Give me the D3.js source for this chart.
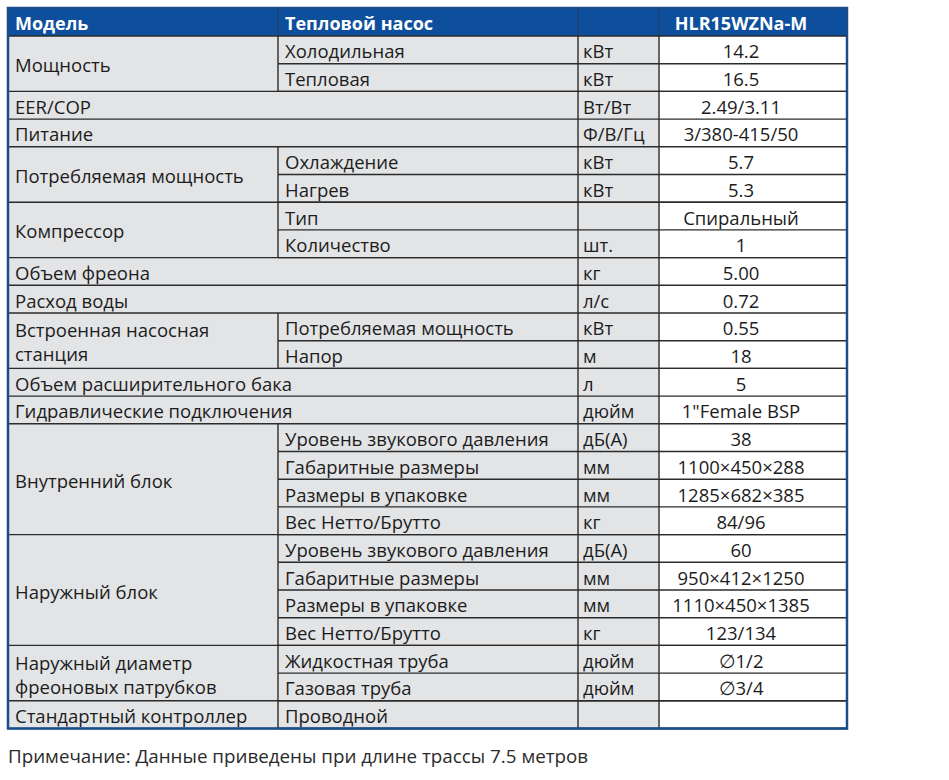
<!DOCTYPE html>
<html>
<head>
<meta charset="utf-8">
<script src="https://cdn.jsdelivr.net/npm/d3@7"></script>
<style>
  body { margin: 0; background: #fff; }
  svg text { font-family: "Open Sans", "Noto Sans", sans-serif; fill: #1c1c1c; }
</style>
</head>
<body>
<div id="chart"></div>
<script>
// Header cells.
var headerLabels = ["Модель", "Тепловой насос", "", "HLR15WZNa-M"];

// Merged left-hand groups and the number of rows each covers.
var groupLabels = ["Мощность", "EER/COP", "Питание", "Потребляемая мощность", "Компрессор",
    "Объем фреона", "Расход воды", "Встроенная насосная\nстанция", "Объем расширительного бака",
    "Гидравлические подключения", "Внутренний блок", "Наружный блок",
    "Наружный диаметр\nфреоновых патрубков", "Стандартный контроллер"];
var groupSpans = [2, 1, 1, 2, 2, 1, 1, 2, 1, 1, 4, 4, 2, 1];

// One entry per row (null sub label = group cell spans both columns).
var subLabels = ["Холодильная", "Тепловая", null, null, "Охлаждение", "Нагрев", "Тип", "Количество",
    null, null, "Потребляемая мощность", "Напор", null, null,
    "Уровень звукового давления", "Габаритные размеры", "Размеры в упаковке", "Вес Нетто/Брутто",
    "Уровень звукового давления", "Габаритные размеры", "Размеры в упаковке", "Вес Нетто/Брутто",
    "Жидкостная труба", "Газовая труба", "Проводной"];
var units = ["кВт", "кВт", "Вт/Вт", "Ф/В/Гц", "кВт", "кВт", "", "шт.", "кг", "л/с", "кВт", "м", "л", "дюйм",
    "дБ(А)", "мм", "мм", "кг", "дБ(А)", "мм", "мм", "кг", "дюйм", "дюйм", ""];
var values = ["14.2", "16.5", "2.49/3.11", "3/380-415/50", "5.7", "5.3", "Спиральный", "1", "5.00", "0.72",
    "0.55", "18", "5", "1\"Female BSP", "38", "1100×450×288", "1285×682×385", "84/96",
    "60", "950×412×1250", "1110×450×1385", "123/134", "∅1/2", "∅3/4", ""];

var note = "Примечание: Данные приведены при длине трассы 7.5 метров";

// Layout.
var width = 949, height = 780;
var colX = [8, 278, 578, 659, 847];
var headTop = 8, headBottom = 36;
var nRows = units.length;
var y = d3.scaleLinear().domain([0, nRows]).range([headBottom, 728.5]);
var valueCenter = 741;
var pad = 7;
var fontSize = 18.5;
var gray = "#e3e4e6", blue = "#0d4f9c", lineColor = "#2b2b2b", borderColor = "#1b4c8c";

var svg = d3.select("#chart").append("svg")
        .attr("width", width)
        .attr("height", height);

// Background fills: gray for label columns, blue header.
svg.append("rect")
        .attr("x", colX[0]).attr("y", headBottom)
        .attr("width", colX[3] - colX[0]).attr("height", y(nRows) - headBottom)
        .style("fill", gray);
svg.append("rect")
        .attr("x", colX[0]).attr("y", headTop)
        .attr("width", colX[4] - colX[0]).attr("height", headBottom - headTop)
        .style("fill", blue);

// Header text.
svg.selectAll("text.head").data(headerLabels).enter().append("text")
        .attr("class", "head")
        .attr("x", function(d, i) { return i === 3 ? valueCenter : colX[i] + pad; })
        .attr("y", (headTop + headBottom) / 2 + 1)
        .attr("dominant-baseline", "central")
        .attr("text-anchor", function(d, i) { return i === 3 ? "middle" : "start"; })
        .style("font-size", "18px")
        .style("font-weight", "bold")
        .style("fill", "#fff")
        .text(function(d) { return d; });

// Header column separators.
svg.selectAll("line.hsep").data(colX.slice(1, 4)).enter().append("line")
        .attr("x1", function(d) { return d; }).attr("x2", function(d) { return d; })
        .attr("y1", headTop).attr("y2", headBottom)
        .style("stroke", "#2a3a55").style("stroke-width", 1);

// Compute group start rows.
var groups = [];
var start = 0;
groupLabels.forEach(function(label, i) {
    groups.push({label: label, start: start, span: groupSpans[i]});
    start += groupSpans[i];
});

var lines = svg.append("g");
var texts = svg.append("g");

// Group cells.
groups.forEach(function(g) {
    var top = y(g.start), bottom = y(g.start + g.span);
    var parts = g.label.split("\n");
    var mid = (top + bottom) / 2 + 1;
    var lh = 24;
    parts.forEach(function(p, k) {
        texts.append("text")
                .attr("x", colX[0] + pad)
                .attr("y", mid + (k - (parts.length - 1) / 2) * lh)
                .attr("dominant-baseline", "central")
                .style("font-size", fontSize + "px")
                .text(p);
    });
    // Line under the group across all columns.
    lines.append("line")
            .attr("x1", colX[0]).attr("x2", colX[4])
            .attr("y1", bottom).attr("y2", bottom);
});

// Row cells.
units.forEach(function(u, i) {
    var top = y(i), bottom = y(i + 1), mid = (top + bottom) / 2 + 1;
    if (subLabels[i] !== null) {
        texts.append("text")
                .attr("x", colX[1] + pad).attr("y", mid)
                .attr("dominant-baseline", "central")
                .style("font-size", fontSize + "px")
                .text(subLabels[i]);
        // Line under row from sub column onward.
        lines.append("line")
                .attr("x1", colX[1]).attr("x2", colX[4])
                .attr("y1", bottom).attr("y2", bottom);
        lines.append("line")
                .attr("x1", colX[1]).attr("x2", colX[1])
                .attr("y1", top).attr("y2", bottom);
    }
    texts.append("text")
            .attr("x", colX[2] + 5).attr("y", mid)
            .attr("dominant-baseline", "central")
            .style("font-size", fontSize + "px")
            .text(u);
    texts.append("text")
            .attr("x", valueCenter).attr("y", mid)
            .attr("dominant-baseline", "central")
            .attr("text-anchor", "middle")
            .style("font-size", fontSize + "px")
            .text(values[i]);
});

// Vertical lines for unit and value columns.
[colX[2], colX[3]].forEach(function(x) {
    lines.append("line")
            .attr("x1", x).attr("x2", x)
            .attr("y1", headBottom).attr("y2", y(nRows));
});
lines.append("line")
        .attr("x1", colX[0]).attr("x2", colX[4])
        .attr("y1", headBottom).attr("y2", headBottom);
lines.selectAll("line").style("stroke", lineColor).style("stroke-width", 1.4);

// Outer border.
svg.append("rect")
        .attr("x", colX[0]).attr("y", headTop)
        .attr("width", colX[4] - colX[0]).attr("height", y(nRows) - headTop)
        .style("fill", "none")
        .style("stroke", borderColor)
        .style("stroke-width", 2.5);

// Note below the table.
svg.append("text")
        .attr("x", colX[0])
        .attr("y", 756)
        .attr("dominant-baseline", "central")
        .style("font-size", "18.8px")
        .style("fill", "#2a2a2a")
        .text(note);
</script>
</body>
</html>
